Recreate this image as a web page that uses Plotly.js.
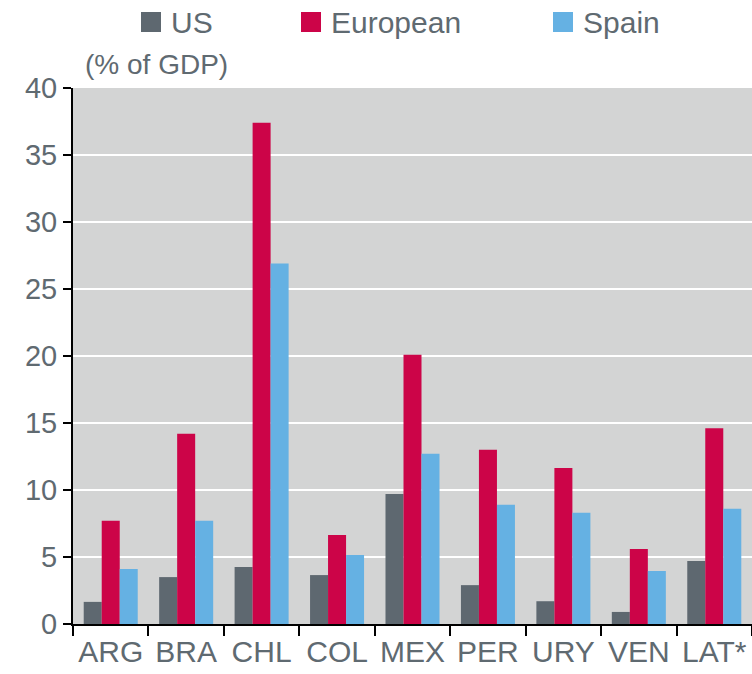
<!DOCTYPE html>
<html>
<head>
<meta charset="utf-8">
<script src="https://cdn.plot.ly/plotly-3.0.1.min.js"></script>
<style>html,body{margin:0;padding:0;background:#fff;}#chart{width:752px;height:674px;}</style>
</head>
<body>
<div id="chart"></div>
<script>
const categories = ["ARG", "BRA", "CHL", "COL", "MEX", "PER", "URY", "VEN", "LAT*"];
const usValues = [1.65, 3.5, 4.25, 3.65, 9.7, 2.9, 1.7, 0.9, 4.7];
const europeanValues = [7.7, 14.2, 37.4, 6.65, 20.1, 13.0, 11.65, 5.6, 14.6];
const spainValues = [4.1, 7.7, 26.9, 5.15, 12.7, 8.9, 8.3, 3.95, 8.6];
const yTicks = [0, 5, 10, 15, 20, 25, 30, 35, 40];
const seriesNames = ["US", "European", "Spain"];
const seriesColors = ["#5e6870", "#cc0448", "#65b1e3"];

const textColor = "#5f6a71";
const fontFamily = "Liberation Sans, Arial, sans-serif";

const seriesValues = [usValues, europeanValues, spainValues];
const traces = seriesNames.map((n, i) => ({
  type: "bar", name: n, x: categories, y: seriesValues[i],
  marker: {color: seriesColors[i]}, showlegend: false
}));

// Manual legend (large square swatches), placed in paper coordinates
const W = 752, H = 674, L = 73, R = 0, T = 88, B = 50;
const pw = W - L - R, ph = H - T - B;
const px = v => (v - L) / pw;
const py = v => (H - B - v) / ph;
const legendSwatchX = [141, 301, 553];
const shapes = [];
const annotations = [];
seriesNames.forEach((n, i) => {
  shapes.push({type: "rect", xref: "paper", yref: "paper",
    x0: px(legendSwatchX[i]), x1: px(legendSwatchX[i] + 20),
    y0: py(32), y1: py(12), fillcolor: seriesColors[i], line: {width: 0}});
  annotations.push({text: n, xref: "paper", yref: "paper",
    x: px(legendSwatchX[i] + 28), y: py(22), xanchor: "left", yanchor: "middle",
    showarrow: false, font: {family: fontFamily, size: 30, color: textColor}});
});
annotations.push({text: "(% of GDP)", xref: "paper", yref: "paper", x: px(83), y: py(64),
  xanchor: "left", yanchor: "middle", showarrow: false,
  font: {family: fontFamily, size: 28, color: textColor}});

const layout = {
  width: W, height: H,
  margin: {l: L, r: R, t: T, b: B, pad: 0},
  paper_bgcolor: "#ffffff",
  plot_bgcolor: "#d3d4d4",
  barmode: "group",
  bargap: 0.284,
  bargroupgap: 0,
  font: {family: fontFamily, size: 29, color: textColor},
  showlegend: false,
  xaxis: {
    type: "category",
    showgrid: false,
    showline: true, linecolor: "#000000", linewidth: 2,
    ticks: "outside", ticklen: 10, tickwidth: 2, tickcolor: "#000000",
    tickson: "boundaries",
    tickfont: {family: fontFamily, size: 30, color: textColor},
    fixedrange: true
  },
  yaxis: {
    range: [0, 40],
    tickvals: yTicks,
    ticktext: yTicks.map(String),
    showgrid: true, gridcolor: "#ffffff", gridwidth: 2,
    zeroline: false,
    showline: true, linecolor: "#000000", linewidth: 2,
    ticks: "outside", ticklen: 8, tickwidth: 2, tickcolor: "#000000",
    tickfont: {family: fontFamily, size: 29, color: textColor},
    fixedrange: true
  },
  shapes: shapes,
  annotations: annotations
};

Plotly.newPlot("chart", traces, layout, {staticPlot: true, displayModeBar: false});
</script>
</body>
</html>
